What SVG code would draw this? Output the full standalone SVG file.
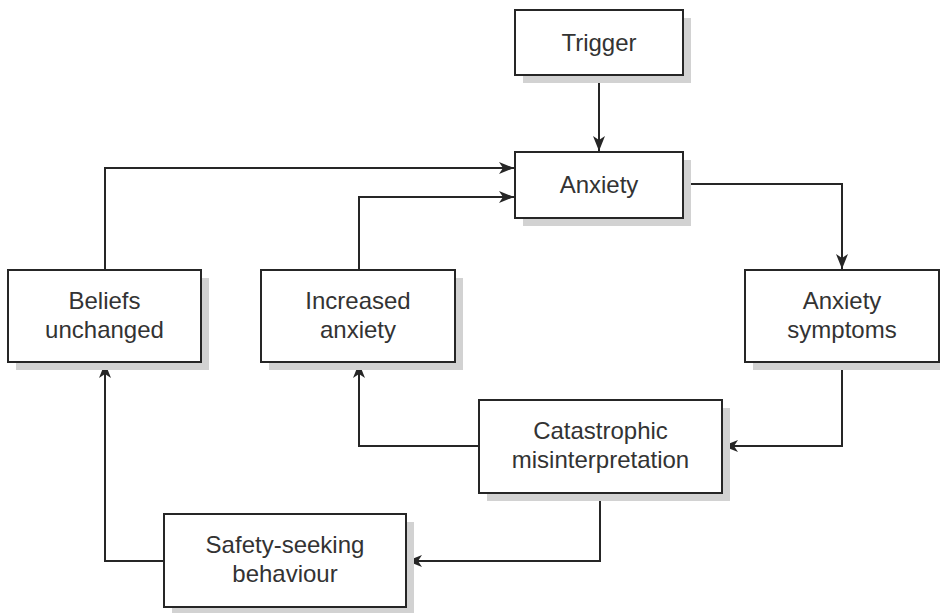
<svg xmlns="http://www.w3.org/2000/svg" width="940" height="613" viewBox="0 0 940 613">
  <style>
    .shadow { fill: #d2d2d2; stroke: none; }
    .box { fill: #ffffff; stroke: #262626; stroke-width: 2; }
    .label { font-family: "Liberation Sans", Arial, sans-serif; font-size: 24px; fill: #333333; text-anchor: middle; }
    .link { fill: none; stroke: #262626; stroke-width: 2; marker-end: url(#arrow); }
  </style>
  <defs>
    <marker id="arrow" markerUnits="userSpaceOnUse" markerWidth="16" markerHeight="14" refX="15" refY="7" orient="auto">
      <path d="M0,1 L15,7 L0,13 L4,7 Z" fill="#262626"/>
    </marker>
  </defs>

  <rect width="940" height="613" fill="#ffffff"/>

  <g id="connectors">
    <path class="link" d="M599,75 L599,151"/>
    <path class="link" d="M683,184 L842,184 L842,269"/>
    <path class="link" d="M842,362 L842,446 L723,446"/>
    <path class="link" d="M479,446 L359,446 L359,363"/>
    <path class="link" d="M600,493 L600,561 L407,561"/>
    <path class="link" d="M164,561 L105,561 L105,363"/>
    <path class="link" d="M105,270 L105,168 L514,168"/>
    <path class="link" d="M359,270 L359,197 L514,197"/>
  </g>

  <g id="trigger">
    <rect class="shadow" x="523" y="18" width="168" height="65"/>
    <rect class="box" x="515" y="10" width="168" height="65"/>
    <text class="label" x="599" y="51">Trigger</text>
  </g>

  <g id="anxiety">
    <rect class="shadow" x="523" y="160" width="168" height="66"/>
    <rect class="box" x="515" y="152" width="168" height="66"/>
    <text class="label" x="599" y="193">Anxiety</text>
  </g>

  <g id="beliefs-unchanged">
    <rect class="shadow" x="16" y="278" width="193" height="92"/>
    <rect class="box" x="8" y="270" width="193" height="92"/>
    <text class="label" x="104.5" y="309">Beliefs</text>
    <text class="label" x="104.5" y="338">unchanged</text>
  </g>

  <g id="increased-anxiety">
    <rect class="shadow" x="269" y="278" width="194" height="92"/>
    <rect class="box" x="261" y="270" width="194" height="92"/>
    <text class="label" x="358" y="309">Increased</text>
    <text class="label" x="358" y="338">anxiety</text>
  </g>

  <g id="anxiety-symptoms">
    <rect class="shadow" x="753" y="278" width="194" height="92"/>
    <rect class="box" x="745" y="270" width="194" height="92"/>
    <text class="label" x="842" y="309">Anxiety</text>
    <text class="label" x="842" y="338">symptoms</text>
  </g>

  <g id="catastrophic-misinterpretation">
    <rect class="shadow" x="487" y="408" width="243" height="93"/>
    <rect class="box" x="479" y="400" width="243" height="93"/>
    <text class="label" x="600.5" y="439">Catastrophic</text>
    <text class="label" x="600.5" y="468">misinterpretation</text>
  </g>

  <g id="safety-seeking-behaviour">
    <rect class="shadow" x="172" y="522" width="242" height="93"/>
    <rect class="box" x="164" y="514" width="242" height="93"/>
    <text class="label" x="285" y="553">Safety-seeking</text>
    <text class="label" x="285" y="582">behaviour</text>
  </g>
</svg>
